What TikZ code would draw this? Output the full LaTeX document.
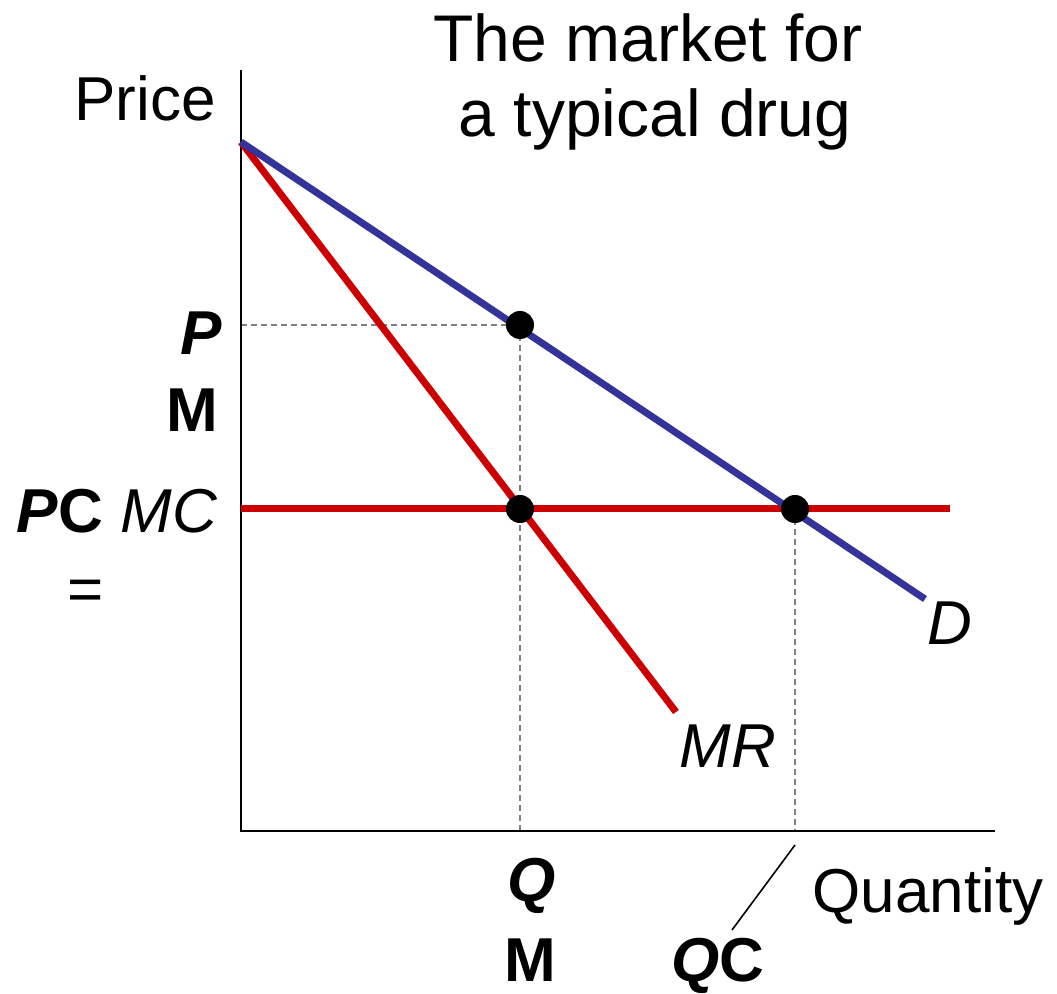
\documentclass[tikz,border=0pt]{standalone}
\usepackage{fontspec}
\setmainfont{Liberation Sans}
\begin{document}
\begin{tikzpicture}[x=0.5pt,y=-0.5pt,
  lbl/.style={inner sep=0pt,font=\fontsize{31}{36}\selectfont},
  axis/.style={line width=1pt,black},
  guide/.style={line width=0.6pt,gray,dash pattern=on 3pt off 2pt},
  curve/.style={line width=3.5pt},
  dot/.style={circle,fill=black,inner sep=0pt,minimum size=14pt}]
\definecolor{dblue}{HTML}{333399}
\definecolor{mred}{HTML}{CC0000}
\useasboundingbox (0,0) rectangle (1057,994);
% coordinates
\coordinate (O) at (241,831);
\coordinate (Ytop) at (241,70);
\coordinate (Xend) at (995,831);
\coordinate (A) at (241,142);
\coordinate (Dend) at (925,599);
\coordinate (MRend) at (676,712);
\coordinate (MCl) at (241,509);
\coordinate (MCr) at (950,509);
\coordinate (PMy) at (241,325);
\coordinate (QMx) at (520,831);
\coordinate (QCx) at (795,831);
\coordinate (tickA) at (795,845);
\coordinate (tickB) at (732,930);
% guides
\draw[guide] (PMy) -- (520,325);
\draw[guide] (520,325) -- (QMx);
\draw[guide] (795,509) -- (QCx);
% axes
\draw[axis] (Ytop) -- (O) -- (Xend);
% curves
\draw[curve,mred] (MCl) -- (MCr);
\draw[curve,mred] (A) -- (MRend);
\draw[curve,dblue] (A) -- (Dend);
% dots
\node[dot] (e1) at (520,325) {};
\node[dot] (e2) at (520,509) {};
\node[dot] (e3) at (795,509) {};
\draw[line width=0.8pt] (tickA) -- (tickB);
% labels
\node[lbl,anchor=base] (price) at (145,121) {Price};
\node[lbl,anchor=base,font=\fontsize{33}{38}\selectfont] (t1) at (648,62) {The market for};
\node[lbl,anchor=base,font=\fontsize{33}{38}\selectfont] (t2) at (655,137) {a typical drug};
\node[lbl,anchor=base] (P) at (201,355) {\bfseries\itshape P};
\node[lbl,anchor=base] (M1) at (192,432) {\bfseries M};
\node[lbl,anchor=base] (PC) at (60,533) {\bfseries{\itshape P}C};
\node[lbl,anchor=base] (MC) at (169,533) {\itshape MC};
\node[lbl,anchor=base] (eq) at (86,611) {=};
\node[lbl,anchor=base] (D) at (950,645) {\itshape D};
\node[lbl,anchor=base] (MR) at (728,768) {\itshape MR};
\node[lbl,anchor=base] (qty) at (928,913) {Quantity};
\node[lbl,anchor=base] (Q) at (532,902) {\bfseries\itshape Q};
\node[lbl,anchor=base] (M2) at (530,982) {\bfseries M};
\node[lbl,anchor=base] (QC) at (718,982) {\bfseries{\itshape Q}C};
\end{tikzpicture}
\end{document}
